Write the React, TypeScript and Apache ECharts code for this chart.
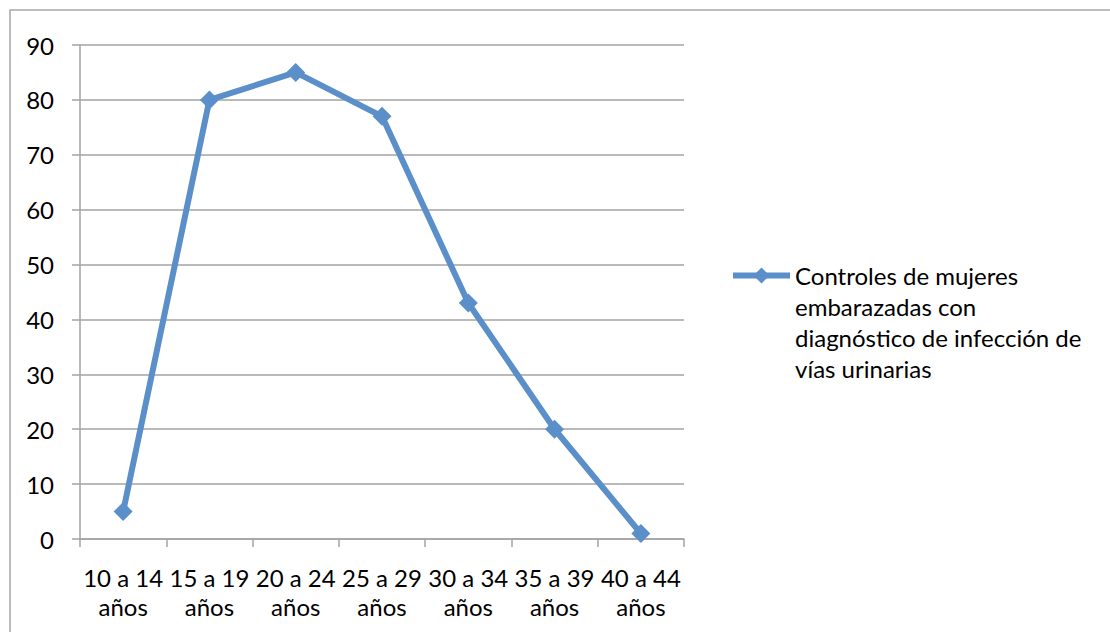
import React, { useEffect, useRef } from "react";
import * as echarts from "echarts";

const categories = [
  "10 a 14\naños",
  "15 a 19\naños",
  "20 a 24\naños",
  "25 a 29\naños",
  "30 a 34\naños",
  "35 a 39\naños",
  "40 a 44\naños",
];
const values = [5, 80, 85, 77, 43, 20, 1];
const seriesName =
  "Controles de mujeres\nembarazadas con\ndiagnóstico de infección de\nvías urinarias";

const FONT = "Lato";
const LINE = "#5b8fc9";
const GRIDC = "#a3a3a3";

export default function App() {
  const ref = useRef<HTMLDivElement>(null);
  useEffect(() => {
    document.body.style.margin = "0";
    const chart = echarts.init(ref.current!, null, { renderer: "svg" });
    chart.setOption({
      animation: false,
      backgroundColor: "#ffffff",
      textStyle: { fontFamily: FONT },
      graphic: [
        {
          type: "rect",
          shape: { x: 10, y: 10, width: 1200, height: 800 },
          style: { fill: "none", stroke: "#a6a6a6", lineWidth: 1.5 },
          silent: true,
        },
      ],
      grid: { left: 80, right: 426, top: 45, bottom: 93, containLabel: false },
      xAxis: {
        type: "category",
        data: categories,
        boundaryGap: true,
        axisLine: { show: true, lineStyle: { color: GRIDC, width: 1.5 } },
        axisTick: { show: true, length: 8, lineStyle: { color: GRIDC, width: 1.5 } },
        axisLabel: {
          color: "#000",
          fontFamily: FONT,
          fontSize: 24,
          lineHeight: 29,
          margin: 24,
          interval: 0,
        },
      },
      yAxis: {
        type: "value",
        min: 0,
        max: 90,
        interval: 10,
        axisLine: { show: true, lineStyle: { color: GRIDC, width: 1.5 } },
        axisTick: { show: true, length: 8, lineStyle: { color: GRIDC, width: 1.5 } },
        splitLine: { show: true, lineStyle: { color: GRIDC, width: 1.5 } },
        axisLabel: { color: "#000", fontFamily: FONT, fontSize: 24, margin: 26 },
      },
      legend: {
        left: 725,
        top: 162,
        orient: "vertical",
        itemWidth: 57,
        itemHeight: 20,
        data: [seriesName],
        formatter: (name: string) => "\n\n\n" + name,
        lineStyle: { width: 6, color: LINE },
        itemStyle: { color: LINE },
        textStyle: {
          color: "#000",
          fontFamily: FONT,
          fontSize: 24,
          lineHeight: 31,
        },
      },
      series: [
        {
          type: "line",
          name: seriesName,
          data: values,
          symbol: "diamond",
          symbolSize: 19,
          lineStyle: { color: LINE, width: 6 },
          itemStyle: { color: LINE },
        },
      ],
    });
    return () => chart.dispose();
  }, []);
  return <div ref={ref} style={{ width: 1110, height: 632 }} />;
}
